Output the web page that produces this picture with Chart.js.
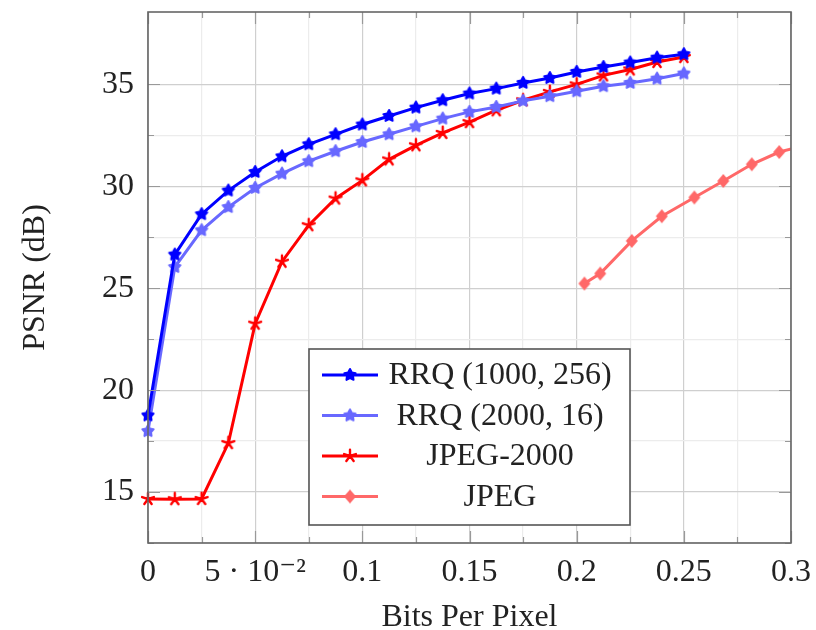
<!DOCTYPE html>
<html><head><meta charset="utf-8">
<script src="https://cdn.jsdelivr.net/npm/chart.js@4/dist/chart.umd.min.js"></script>
<style>html,body{margin:0;padding:0;background:#fff}#wrap{width:816px;height:630px;position:relative}</style>
</head><body><div id="wrap"><canvas id="c" width="816" height="630"></canvas></div>
<script>
// ---- data ----
const bpp = [0, 0.0125, 0.025, 0.0375, 0.05, 0.0625, 0.075, 0.0875, 0.1, 0.1125, 0.125, 0.1375, 0.15, 0.1625, 0.175, 0.1875, 0.2, 0.2125, 0.225, 0.2375, 0.25];
const rrq1000 = [18.76, 26.65, 28.63, 29.79, 30.70, 31.47, 32.06, 32.55, 33.03, 33.45, 33.86, 34.22, 34.55, 34.79, 35.07, 35.31, 35.61, 35.85, 36.07, 36.31, 36.48];
const rrq2000 = [17.99, 26.04, 27.84, 28.98, 29.92, 30.62, 31.23, 31.72, 32.17, 32.55, 32.94, 33.32, 33.65, 33.89, 34.19, 34.42, 34.66, 34.91, 35.07, 35.28, 35.53];
const jpeg2000 = [14.66, 14.65, 14.66, 17.40, 23.26, 26.30, 28.09, 29.40, 30.29, 31.32, 32.01, 32.62, 33.15, 33.73, 34.22, 34.63, 35.00, 35.44, 35.73, 36.10, 36.34];
const jpegBpp = [0.2036, 0.2110, 0.2257, 0.2397, 0.2549, 0.2684, 0.2817, 0.2945, 0.3085];
const jpegPsnr = [25.23, 25.72, 27.32, 28.53, 29.45, 30.26, 31.08, 31.68, 32.05];
const seriesNames = ['RRQ (1000, 256)', 'RRQ (2000, 16)', 'JPEG-2000', 'JPEG'];
const xTickLabels = ['0', '5 · 10⁻²', '0.1', '0.15', '0.2', '0.25', '0.3'];
const yTickLabels = ['15', '20', '25', '30', '35'];
const xTitle = 'Bits Per Pixel';
const yTitle = 'PSNR (dB)';

// ---- styling ----
const FONT = "'Liberation Serif', 'DejaVu Serif', serif";
const TXT = '#222';
const C_BLUE = '#0000ff', C_LBLUE = '#6868ff', C_RED = '#ff0000', C_LRED = '#ff6868';

function makeMark(kind, color) {
  const s = 20, c = document.createElement('canvas');
  c.width = s; c.height = s;
  const g = c.getContext('2d');
  g.translate(s / 2, s / 2);
  g.fillStyle = color; g.strokeStyle = color; g.lineJoin = 'round'; g.lineCap = 'round';
  if (kind === 'fstar') {
    g.beginPath();
    for (let i = 0; i < 10; i++) {
      const r = i % 2 ? 3.2 : 6.0, a = -Math.PI / 2 + i * Math.PI / 5;
      g.lineTo(r * Math.cos(a), r * Math.sin(a));
    }
    g.closePath(); g.fill(); g.lineWidth = 2; g.stroke();
  } else if (kind === 'star') {
    g.lineWidth = 2.4; g.beginPath();
    for (let i = 0; i < 5; i++) {
      const a = -Math.PI / 2 + i * 2 * Math.PI / 5;
      g.moveTo(0, 0); g.lineTo(6.2 * Math.cos(a), 6.2 * Math.sin(a));
    }
    g.stroke();
  } else {
    g.beginPath(); g.moveTo(0, -7); g.lineTo(6, 0); g.lineTo(0, 7); g.lineTo(-6, 0); g.closePath(); g.fill();
  }
  return c;
}
const marks = [makeMark('fstar', C_BLUE), makeMark('fstar', C_LBLUE), makeMark('star', C_RED), makeMark('diamond', C_LRED)];
const colors = [C_BLUE, C_LBLUE, C_RED, C_LRED];

const pts = (xs, ys) => xs.map((x, i) => ({x: x, y: ys[i]}));

function ds(i, data, clip) {
  return {
    label: seriesNames[i], data: data, borderColor: colors[i], backgroundColor: colors[i],
    borderWidth: 3, pointStyle: marks[i], pointRadius: 6, tension: 0, clip: clip
  };
}

const isMult = (v, s) => Math.abs(v / s - Math.round(v / s)) < 1e-6;
const zeroPad = s => { s.paddingTop = 0; s.paddingBottom = 0; s.paddingLeft = 0; s.paddingRight = 0; };

const framePlugin = {
  id: 'frame',
  afterDatasetsDraw(chart) {
    const {ctx, chartArea: a, scales} = chart;
    ctx.save();
    ctx.strokeStyle = '#999'; ctx.lineWidth = 1.2;
    scales.x.ticks.forEach(t => {
      if (!isMult(t.value, 0.025)) return;
      const px = Math.round(scales.x.getPixelForValue(t.value)) + 0.5;
      const L = isMult(t.value, 0.05) ? 12 : 6;
      ctx.beginPath(); ctx.moveTo(px, a.bottom); ctx.lineTo(px, a.bottom - L);
      ctx.moveTo(px, a.top); ctx.lineTo(px, a.top + L); ctx.stroke();
    });
    scales.y.ticks.forEach(t => {
      if (!isMult(t.value, 2.5)) return;
      const py = Math.round(scales.y.getPixelForValue(t.value)) + 0.5;
      const L = isMult(t.value, 5) ? 12 : 6;
      ctx.beginPath(); ctx.moveTo(a.left, py); ctx.lineTo(a.left + L, py);
      ctx.moveTo(a.right, py); ctx.lineTo(a.right - L, py); ctx.stroke();
    });
    ctx.strokeStyle = '#666'; ctx.lineWidth = 1.6;
    ctx.strokeRect(a.left, a.top, a.right - a.left, a.bottom - a.top);

    // legend
    const bx = a.left + 161, by = a.top + 337, bw = 321, bh = 176;
    ctx.fillStyle = '#fff'; ctx.fillRect(bx, by, bw, bh);
    ctx.strokeStyle = '#555'; ctx.lineWidth = 1.6; ctx.strokeRect(bx, by, bw, bh);
    ctx.font = '32px ' + FONT; ctx.textAlign = 'center'; ctx.textBaseline = 'middle';
    chart.data.datasets.forEach((d, i) => {
      const y = by + 26 + i * 40.5;
      ctx.strokeStyle = d.borderColor; ctx.lineWidth = 3;
      ctx.beginPath(); ctx.moveTo(bx + 13, y); ctx.lineTo(bx + 69, y); ctx.stroke();
      ctx.drawImage(d.pointStyle, bx + 41 - 10, y - 10);
      ctx.fillStyle = TXT;
      ctx.fillText(d.label, bx + 191, y + 1);
    });
    ctx.restore();
  }
};

new Chart(document.getElementById('c'), {
  type: 'line',
  data: {
    datasets: [
      ds(0, pts(bpp, rrq1000), false),
      ds(1, pts(bpp, rrq2000), false),
      ds(2, pts(bpp, jpeg2000), false),
      ds(3, pts(jpegBpp, jpegPsnr), {left: 10, top: 10, bottom: 10, right: 0})
    ]
  },
  options: {
    responsive: false, animation: false, devicePixelRatio: 1,
    layout: {padding: {top: 12, right: 25, left: 0, bottom: 0}},
    plugins: {legend: {display: false}, tooltip: {enabled: false}},
    scales: {
      x: {
        type: 'linear', min: 0, max: 0.3,
        afterFit: s => { s.height = 87; zeroPad(s); },
        border: {display: false},
        grid: {drawTicks: false, lineWidth: 1.2,
          color: c => isMult(c.tick.value, 0.05) ? '#cfcfcf' : (isMult(c.tick.value, 0.025) ? '#ececec' : 'rgba(0,0,0,0)')},
        ticks: {stepSize: 0.025, padding: 10, color: TXT, font: {family: FONT, size: 32}, maxRotation: 0, autoSkip: false,
          callback: v => { const k = Math.round(v / 0.025); return (Math.abs(v - k * 0.025) < 1e-9 && k % 2 === 0) ? xTickLabels[k / 2] : ''; }},
        title: {display: true, text: xTitle, color: TXT, font: {family: FONT, size: 32, lineHeight: 0.8}, padding: {top: 0, bottom: 0}}
      },
      y: {
        type: 'linear', min: 12.5, max: 38.55,
        afterFit: s => { s.width = 148; zeroPad(s); },
        border: {display: false},
        grid: {drawTicks: false, lineWidth: 1.2,
          color: c => isMult(c.tick.value, 5) ? '#cfcfcf' : (isMult(c.tick.value, 2.5) ? '#ececec' : 'rgba(0,0,0,0)')},
        ticks: {stepSize: 2.5, padding: 14, color: TXT, font: {family: FONT, size: 32}, autoSkip: false,
          callback: v => { const s = String(Math.round(v)); return (isMult(v, 5) && yTickLabels.includes(s)) ? s : ''; }},
        title: {display: true, text: yTitle, color: TXT, font: {family: FONT, size: 32}, padding: {top: 16, bottom: 0}}
      }
    }
  },
  plugins: [framePlugin]
});
</script></body></html>
